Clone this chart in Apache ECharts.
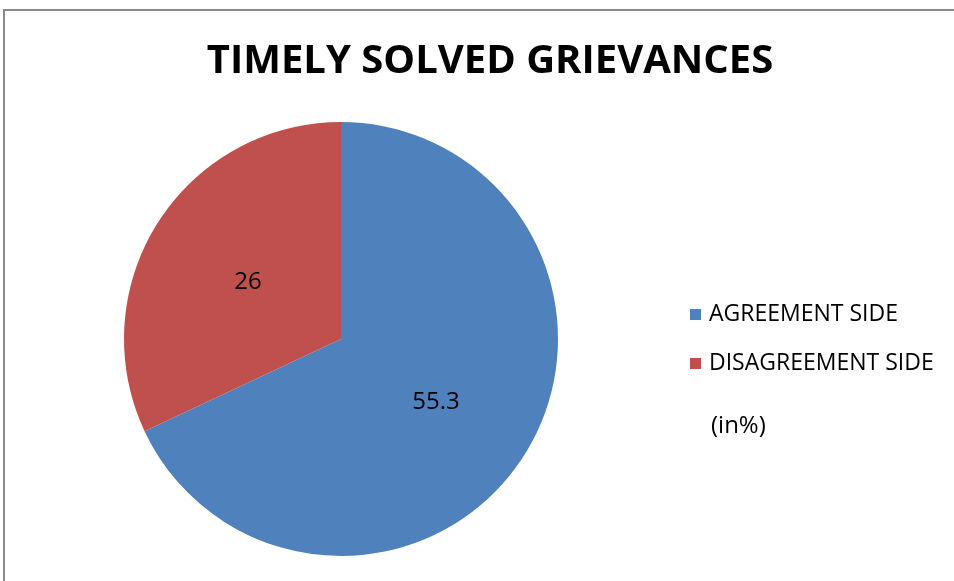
<!DOCTYPE html>
<html>
<head>
<meta charset="utf-8">
<script src="https://cdn.jsdelivr.net/npm/echarts@6/dist/echarts.min.js"></script>
<style>
  html, body { margin: 0; padding: 0; background: #fff; }
  #chart { width: 954px; height: 581px; }
</style>
</head>
<body>
<div id="chart"></div>
<script>
const categories = ["AGREEMENT SIDE", "DISAGREEMENT SIDE"];
const values = [55.3, 26];
const sliceColors = ["#4F81BD", "#C0504D"];
const titleText = "TIMELY SOLVED GRIEVANCES";
const unitText = "(in%)";

const chart = echarts.init(document.getElementById("chart"));
const fontFamily = "'Open Sans', sans-serif";

chart.setOption({
  animation: false,
  color: sliceColors,
  title: [
    {
      text: titleText,
      left: 485,
      top: 37,
      textAlign: "center",
      textStyle: { fontFamily: fontFamily, fontSize: 40, fontWeight: "bold", color: "#000" }
    },
    {
      text: unitText,
      left: 706,
      top: 406,
      padding: 5,
      textStyle: { fontFamily: fontFamily, fontSize: 24, lineHeight: 30, fontWeight: "normal", color: "#000" }
    }
  ],
  legend: {
    orient: "vertical",
    left: 685,
    top: 298,
    itemWidth: 11,
    itemHeight: 11,
    itemGap: 26,
    icon: "rect",
    data: categories,
    textStyle: { fontFamily: fontFamily, fontSize: 23, lineHeight: 23, color: "#000", padding: [0, 0, 0, 3] }
  },
  graphic: [
    {
      type: "rect",
      shape: { x: 4, y: 10, width: 1200, height: 1200 },
      style: { fill: "none", stroke: "#8a8a8a", lineWidth: 2 },
      silent: true
    }
  ],
  series: [
    {
      type: "pie",
      center: [341, 339],
      radius: 217,
      startAngle: 90,
      clockwise: true,
      label: {
        show: true,
        position: "inside",
        formatter: "{c}",
        fontFamily: fontFamily,
        fontSize: 24,
        color: "#000",
        offset: [1, 3]
      },
      labelLine: { show: false },
      itemStyle: { borderWidth: 0 },
      emphasis: { disabled: true },
      data: categories.map((name, i) => ({ name: name, value: values[i] }))
    }
  ]
});
</script>
</body>
</html>
